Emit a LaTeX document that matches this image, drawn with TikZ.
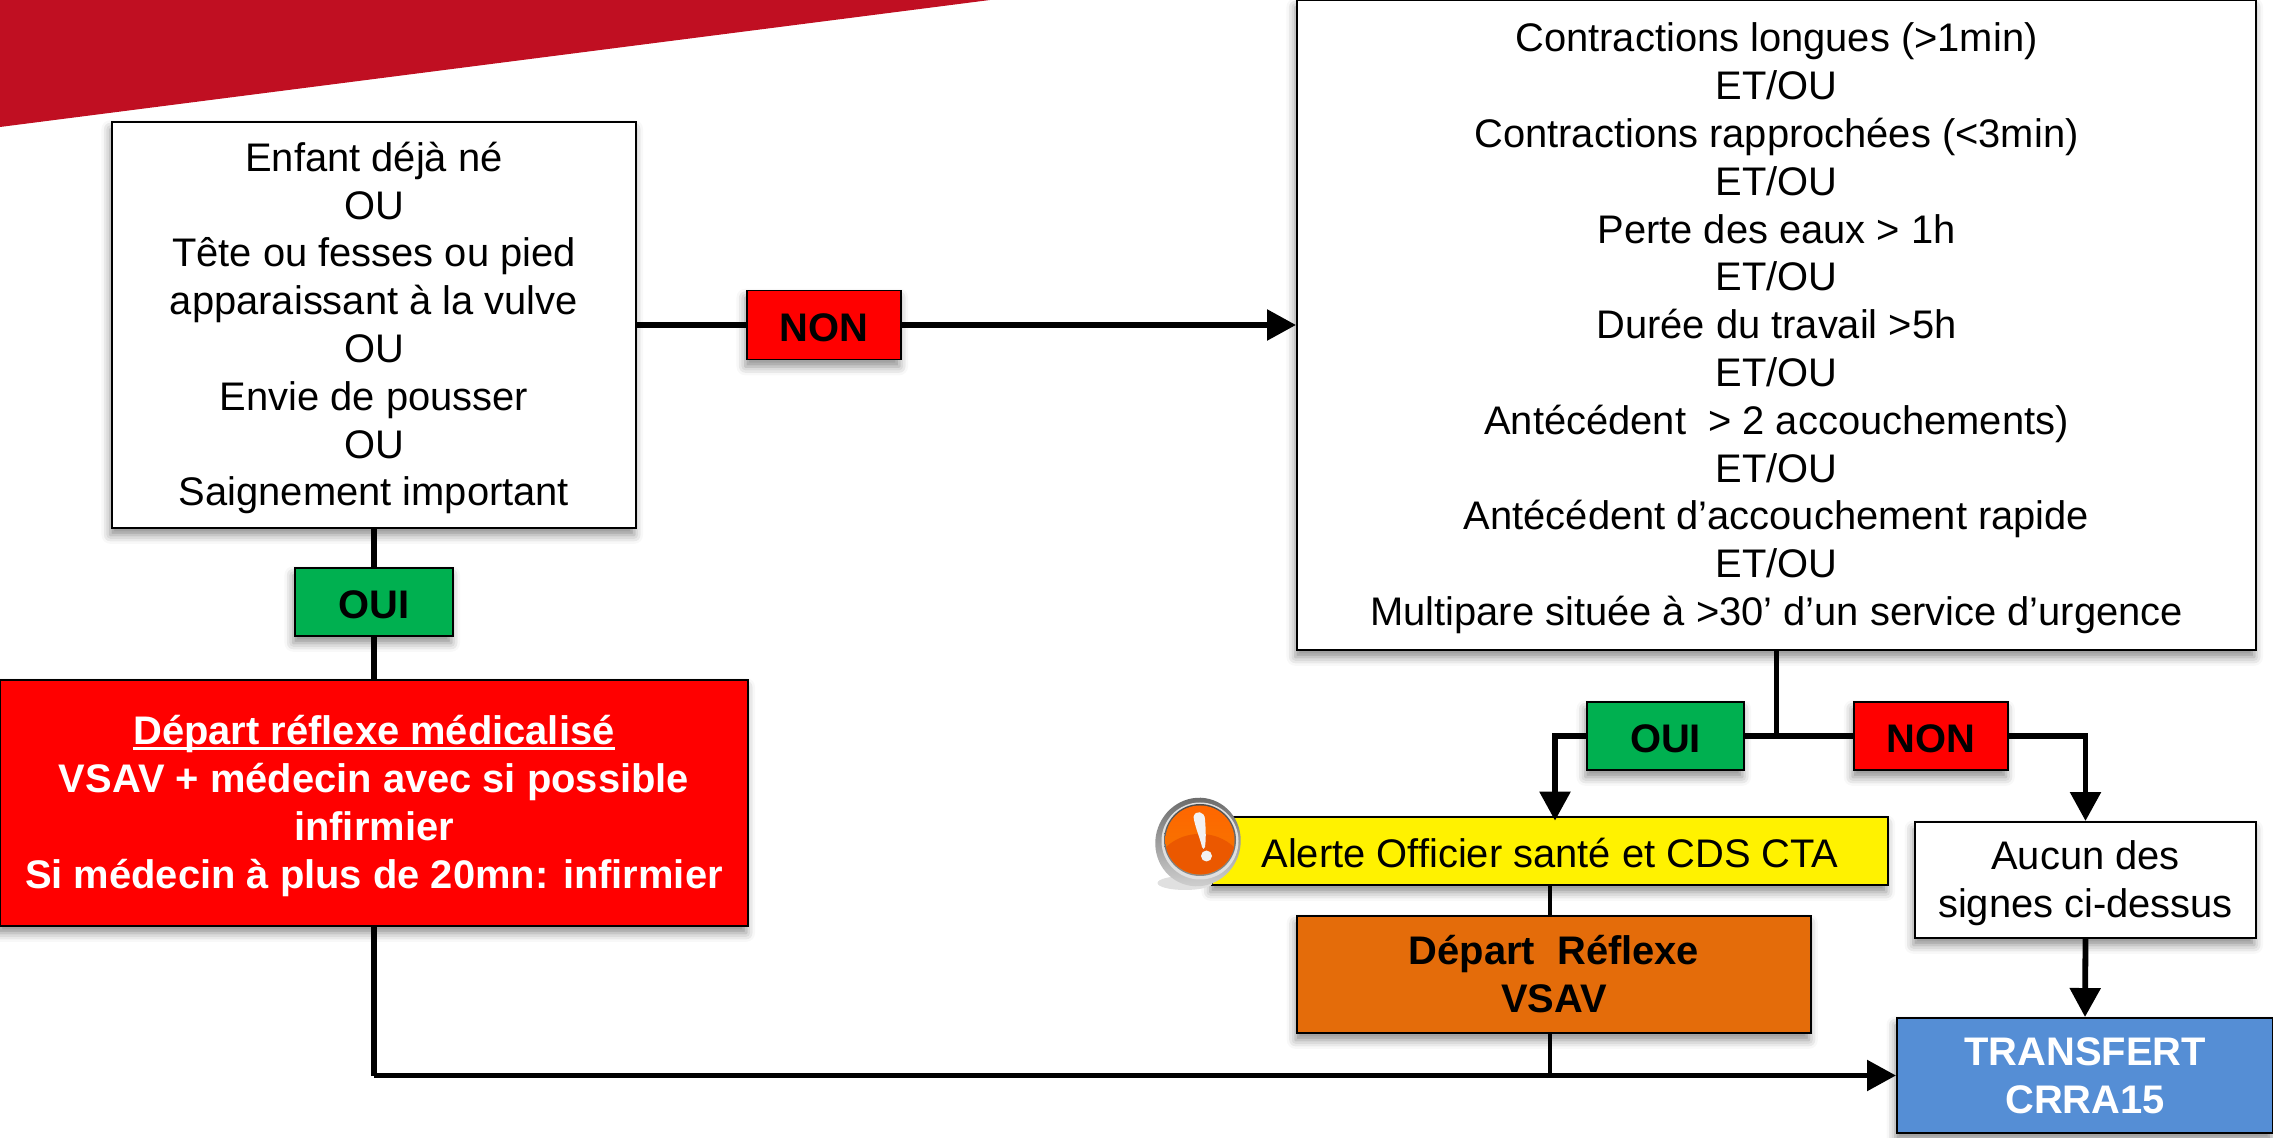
\documentclass[tikz,border=0pt]{standalone}
\usepackage{fontspec}
\setmainfont{Liberation Sans}
\usepackage{xcolor}
\usetikzlibrary{arrows.meta,shadows.blur}
\definecolor{bannerred}{HTML}{C00F22}
\definecolor{ouigreen}{HTML}{00B050}
\definecolor{vsavorange}{HTML}{E46C0A}
\definecolor{transferblue}{HTML}{558ED5}
\newcommand{\toprow}{\rule{0pt}{23pt}}
\newcommand{\lastrow}{\rule[-7.5pt]{0pt}{7.5pt}}
\newcommand{\thickunder}[1]{\setbox0=\hbox{#1}\rlap{\rule[-2.8pt]{\wd0}{1.6pt}}\box0}

\begin{document}
\begin{tikzpicture}
\tikzstyle{textsize} = [font=\fontsize{22.7}{27.2}\selectfont, align=center, inner sep=0pt]
\tikzstyle{oneline} = [execute at begin node={\rule{0pt}{22.3pt}}, execute at end node={\rule[-4pt]{0pt}{4pt}}]
\tikzstyle{boxshadow} = [blur shadow={shadow xshift=-1pt, shadow yshift=-4pt, shadow blur radius=5pt, shadow opacity=45}]
\tikzstyle{signsbox} = [rectangle, fill=white, draw=black, line width=1.1pt, textsize, boxshadow]
\tikzstyle{oui} = [rectangle, fill=ouigreen, draw=black, line width=1.1pt, textsize, oneline, boxshadow]
\tikzstyle{non} = [rectangle, fill=red, draw=black, line width=1.1pt, textsize, oneline, boxshadow]
\tikzstyle{departbox} = [rectangle, fill=red, draw=black, line width=1.1pt, textsize, boxshadow, text=white]
\tikzstyle{alertbox} = [rectangle, fill=yellow, draw=black, line width=1.5pt, textsize, oneline, boxshadow]
\tikzstyle{vsavbox} = [rectangle, fill=vsavorange, draw=black, line width=1.1pt, textsize, boxshadow]
\tikzstyle{transferbox} = [rectangle, fill=transferblue, draw=black, line width=1.1pt, textsize, boxshadow, text=white]
\tikzstyle{link} = [draw=black, line width=3.3pt]
\tikzstyle{thinlink} = [draw=black, line width=2.6pt]
\tikzstyle{arrowlink} = [link, -{Triangle[length=16.5pt,width=17pt]}]

\useasboundingbox (0,0) rectangle (45.46,22.74);
\fill[bannerred] (0,22.74) -- (19.8,22.74) -- (0,20.2) -- cycle;

\node(firstSigns) [signsbox, minimum width=10.48cm, minimum height=8.12cm] at (7.48,16.24) {\toprow Enfant déjà né\\OU\\Tête ou fesses ou pied\\apparaissant à la vulve\\OU\\Envie de pousser\\OU\\Saignement important\lastrow};
\node(nonFirst) [non, minimum width=3.08cm, minimum height=1.38cm] at (16.48,16.24) {\textbf{NON}};
\node(secondSigns) [signsbox, minimum width=19.18cm, minimum height=13cm] at (35.53,16.24) {\toprow Contractions longues (>1min)\\ET/OU\\Contractions rapprochées (<3min)\\ET/OU\\Perte des eaux > 1h\\ET/OU\\Durée du travail >5h\\ET/OU\\Antécédent\ \ > 2 accouchements)\\ET/OU\\Antécédent d’accouchement rapide\\ET/OU\\Multipare située à >30’ d’un service d’urgence\lastrow};
\node(ouiFirst) [oui, minimum width=3.16cm, minimum height=1.36cm] at (7.48,10.7) {\textbf{OUI}};
\node(departMedical) [departbox, minimum width=14.96cm, minimum height=4.92cm] at (7.48,6.68) {\toprow\textbf{\thickunder{Départ réflexe médicalisé}}\\\textbf{VSAV + médecin avec si possible}\\\textbf{infirmier}\\\textbf{Si médecin à plus de 20mn: infirmier}\lastrow};
\node(ouiSecond) [oui, minimum width=3.14cm, minimum height=1.36cm] at (33.31,8.02) {\textbf{OUI}};
\node(nonSecond) [non, minimum width=3.07cm, minimum height=1.36cm] at (38.62,8.02) {\textbf{NON}};
\node(alerte) [alertbox, minimum width=13.52cm, minimum height=1.36cm] at (31,5.72) {Alerte Officier santé et CDS CTA};
\node(aucun) [signsbox, minimum width=6.82cm, minimum height=2.32cm] at (41.71,5.14) {\toprow Aucun des\\signes ci-dessus\lastrow};
\node(departVsav) [vsavbox, minimum width=10.27cm, minimum height=2.34cm] at (31.08,3.25) {\toprow\textbf{Départ\ \ Réflexe}\\\textbf{VSAV}\lastrow};
\node(transfert) [transferbox, minimum width=7.52cm, minimum height=2.3cm] at (41.7,1.23) {\toprow\textbf{TRANSFERT}\\\textbf{CRRA15}\lastrow};

\coordinate(junction) at (secondSigns.south |- ouiSecond);
\coordinate(turn) at (firstSigns.south |- transfert);

\draw[link] (firstSigns.south) -- (ouiFirst.north);
\draw[link] (ouiFirst.south) -- (departMedical.north);
\draw[link] (firstSigns.east) -- (nonFirst.west);
\draw[arrowlink] (nonFirst.east) -- (secondSigns.west);
\draw[link] (secondSigns.south) -- (junction);
\draw[link] (ouiSecond.east) -- (nonSecond.west);
\draw[arrowlink] (ouiSecond.west) -| ([xshift=0.1cm,yshift=-0.1cm]alerte.north);
\draw[arrowlink] (nonSecond.east) -| (aucun.north);
\draw[arrowlink] (aucun.south) -- (transfert.north);
\draw[thinlink] (alerte.south) -- (alerte.south |- departVsav.north);
\draw[thinlink] (alerte.south |- departVsav.south) -- (alerte.south |- transfert);
\draw[link, line join=miter] (departMedical.south) -- (turn);
\draw[arrowlink] (turn) -- (transfert.west);

\fill[black!12] (23.7,5.08) ellipse (0.55 and 0.14);
\shade[top color=black!60, bottom color=black!20, rotate around={-20:(23.96,5.9)}] (23.96,5.9) ellipse (0.85 and 0.89);
\fill[white!88!black] (24,5.92) circle (0.77);
\shade[top color=black!70, bottom color=black!45] (24,5.94) circle (0.72);
\shade[top color=orange!80!red, bottom color=orange!95!black] (24,5.94) circle (0.69);
\fill[red!25!orange!92!black] (23.32,5.8) .. controls (23.7,6.15) and (24.3,6.15) .. (24.68,5.8) arc (-12:-168:0.695 and 0.69) -- cycle;
\fill[white!95!black] (23.87,6.4) .. controls (23.9,6.55) and (24.1,6.52) .. (24.1,6.35) .. controls (24.12,6.1) and (24.12,5.95) .. (24.1,5.8) .. controls (24.08,5.75) and (24.06,5.75) .. (24.04,5.8) .. controls (24,5.98) and (23.9,6.2) .. (23.87,6.4) -- cycle;
\fill[white!95!black] (24.13,5.62) circle (0.11);
\end{tikzpicture}
\end{document}
